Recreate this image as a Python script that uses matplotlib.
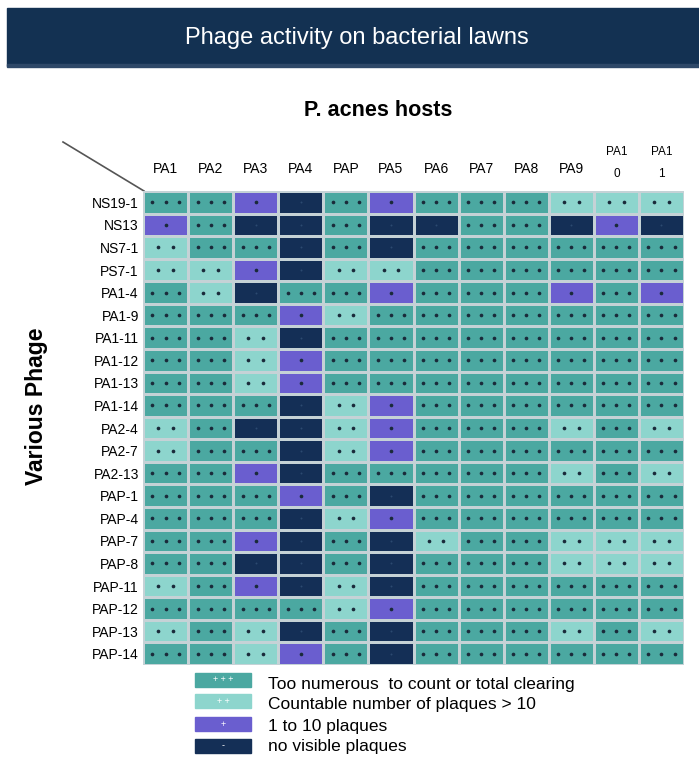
import numpy as np
import matplotlib
matplotlib.use("Agg")
import matplotlib.pyplot as plt
from matplotlib.colors import ListedColormap
from matplotlib.patches import Rectangle
from matplotlib.transforms import ScaledTranslation

plt.rcParams['font.family'] = ['Liberation Sans', 'DejaVu Sans']

# P. acnes hosts (columns) and phages (rows)
hosts = ["PA1", "PA2", "PA3", "PA4", "PAP", "PA5", "PA6", "PA7", "PA8", "PA9", "PA1\n0", "PA1\n1"]
phages = ["NS19-1", "NS13", "NS7-1", "PS7-1", "PA1-4", "PA1-9", "PA1-11", "PA1-12",
          "PA1-13", "PA1-14", "PA2-4", "PA2-7", "PA2-13", "PAP-1", "PAP-4", "PAP-7",
          "PAP-8", "PAP-11", "PAP-12", "PAP-13", "PAP-14"]

# 3 = +++, 2 = ++, 1 = +, 0 = -
activity = [
    [3, 3, 1, 0, 3, 1, 3, 3, 3, 2, 2, 2],
    [1, 3, 0, 0, 3, 0, 0, 3, 3, 0, 1, 0],
    [2, 3, 3, 0, 3, 0, 3, 3, 3, 3, 3, 3],
    [2, 2, 1, 0, 2, 2, 3, 3, 3, 3, 3, 3],
    [3, 2, 0, 3, 3, 1, 3, 3, 3, 1, 3, 1],
    [3, 3, 3, 1, 2, 3, 3, 3, 3, 3, 3, 3],
    [3, 3, 2, 0, 3, 3, 3, 3, 3, 3, 3, 3],
    [3, 3, 2, 1, 3, 3, 3, 3, 3, 3, 3, 3],
    [3, 3, 2, 1, 3, 3, 3, 3, 3, 3, 3, 3],
    [3, 3, 3, 0, 2, 1, 3, 3, 3, 3, 3, 3],
    [2, 3, 0, 0, 2, 1, 3, 3, 3, 2, 3, 2],
    [2, 3, 3, 0, 2, 1, 3, 3, 3, 3, 3, 3],
    [3, 3, 1, 0, 3, 3, 3, 3, 3, 2, 3, 2],
    [3, 3, 3, 1, 3, 0, 3, 3, 3, 3, 3, 3],
    [3, 3, 3, 0, 2, 1, 3, 3, 3, 3, 3, 3],
    [3, 3, 1, 0, 3, 0, 2, 3, 3, 2, 2, 2],
    [3, 3, 0, 0, 3, 0, 3, 3, 3, 2, 2, 2],
    [2, 3, 1, 0, 2, 0, 3, 3, 3, 3, 3, 3],
    [3, 3, 3, 3, 2, 1, 3, 3, 3, 3, 3, 3],
    [2, 3, 2, 0, 3, 0, 3, 3, 3, 2, 3, 2],
    [3, 3, 2, 1, 3, 0, 3, 3, 3, 3, 3, 3],
]

legend_labels = ["Too numerous  to count or total clearing",
                 "Countable number of plaques > 10",
                 "1 to 10 plaques",
                 "no visible plaques"]
legend_symbols = ["+ + +", "+ +", "+", "-"]

colors = ["#142F56", "#6A5ECF", "#8DD5CD", "#4BA8A1"]  # index = activity code
cmap = ListedColormap(colors)

W, H = 699, 771
fig = plt.figure(figsize=(W / 100, H / 100), dpi=100)

# background overlay in pixel coordinates
bg = fig.add_axes([0, 0, 1, 1])
bg.set_xlim(0, W)
bg.set_ylim(H, 0)
bg.axis("off")
bg.add_patch(Rectangle((7, 8), W - 7, 58, color="#133152"))
bg.add_patch(Rectangle((7, 64), W - 7, 3, color="#2E4868"))
bg.text(357, 38, "Phage activity on bacterial lawns", color="white", fontsize=17,
        ha="center", va="center")
bg.text(378, 111, "P. acnes hosts", fontsize=15.5, fontweight="bold", ha="center", va="center")
bg.text(37, 406, "Various Phage", fontsize=16.5, fontweight="bold", rotation=90,
        ha="center", va="center")
bg.plot([63, 144], [142, 191], color="#555555", lw=1.2)

# legend
box_y = [673, 694, 717, 739]
text_y = [685, 704, 727, 746]
for code, y, ty, lab, sym in zip([3, 2, 1, 0], box_y, text_y, legend_labels, legend_symbols):
    bg.add_patch(Rectangle((195, y), 56, 14, color=colors[code]))
    bg.text(223, y + 7, sym, color="white", fontsize=6.5, ha="center", va="center")
    bg.text(268, ty, lab, fontsize=12.5, ha="left", va="center")

# heatmap grid
x0, x1, y0, y1 = 143, 684, 191, 665
ax = fig.add_axes([x0 / W, 1 - y1 / H, (x1 - x0) / W, (y1 - y0) / H])
data = np.array(activity)
nr, nc = data.shape
ax.pcolormesh(data, cmap=cmap, vmin=-0.5, vmax=3.5, edgecolors="#C5D2D6", linewidth=2)
ax.set_xlim(0, nc)
ax.set_ylim(nr, 0)

# dots inside cells
offsets = {3: [-0.29, 0, 0.29], 2: [-0.16, 0.16], 1: [0], 0: [0]}
for r in range(nr):
    for c in range(nc):
        v = data[r, c]
        for dx in offsets[v]:
            ax.scatter(c + 0.5 + dx, r + 0.5, s=7 if v > 0 else 2,
                       color="#1A2A3A" if v > 0 else "#2B4A70", zorder=3, lw=0)

ax.set_xticks(np.arange(nc) + 0.5)
ax.set_xticklabels(hosts, fontsize=10)
ax.xaxis.tick_top()
ax.set_yticks(np.arange(nr) + 0.5)
ax.set_yticklabels(phages, fontsize=10)
ax.tick_params(axis="x", length=0, pad=11)
ax.tick_params(axis="y", length=0, pad=3)
shift = ScaledTranslation(0, -4 / 100, fig.dpi_scale_trans)
for lab in ax.get_xticklabels():
    if "\n" in lab.get_text():
        lab.set_fontsize(8.5)
        lab.set_linespacing(2.1)
        lab.set_transform(lab.get_transform() + shift)
for s in ax.spines.values():
    s.set_visible(False)

fig.savefig("out.png", dpi=100)
